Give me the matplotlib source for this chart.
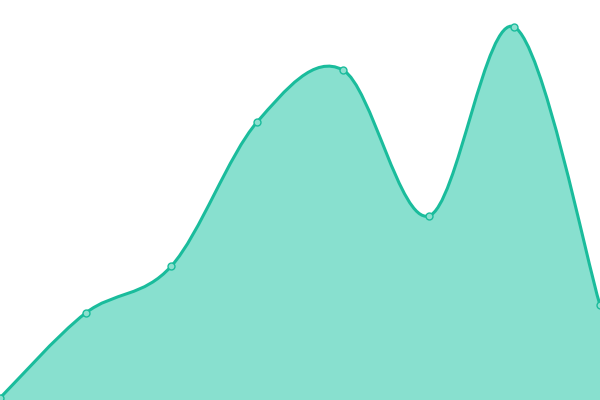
import numpy as np
import matplotlib
matplotlib.use("Agg")
import matplotlib.pyplot as plt
from matplotlib.path import Path
from matplotlib.patches import PathPatch

categories = ["A", "B", "C", "D", "E", "F", "G", "H"]
values = [0.5, 21.75, 33.5, 69.5, 82.5, 46.0, 93.25, 23.75]

line_color = "#1abc9c"
fill_color = "#88e0cf"

fig = plt.figure(figsize=(6, 4), dpi=100)
ax = fig.add_axes([0, 0, 1, 1])
ax.set_xlim(0, len(categories) - 1)
ax.set_ylim(0, 100)
ax.axis("off")

x = np.arange(len(categories), dtype=float)
y = np.array(values, dtype=float)

# Catmull-Rom -> cubic Bezier path through data points
verts = [(x[0], y[0])]
codes = [Path.MOVETO]
n = len(x)
for i in range(n - 1):
    p0 = np.array([x[max(i - 1, 0)], y[max(i - 1, 0)]])
    p1 = np.array([x[i], y[i]])
    p2 = np.array([x[i + 1], y[i + 1]])
    p3 = np.array([x[min(i + 2, n - 1)], y[min(i + 2, n - 1)]])
    c1 = p1 + (p2 - p0) / 6.0
    c2 = p2 - (p3 - p1) / 6.0
    verts += [tuple(c1), tuple(c2), tuple(p2)]
    codes += [Path.CURVE4] * 3

line_path = Path(verts, codes)
area_verts = verts + [(x[-1], 0), (x[0], 0), (x[0], y[0])]
area_codes = codes + [Path.LINETO, Path.LINETO, Path.CLOSEPOLY]
ax.add_patch(PathPatch(Path(area_verts, area_codes), facecolor=fill_color,
                       edgecolor="none", zorder=1))
ax.add_patch(PathPatch(line_path, facecolor="none", edgecolor=line_color,
                       linewidth=2.2, zorder=2))
ax.plot(x, y, linestyle="none", marker="o", markersize=5,
        markerfacecolor="#8de0cf", markeredgecolor=line_color,
        markeredgewidth=1, zorder=3, clip_on=False)

fig.savefig("out.png", dpi=100)
